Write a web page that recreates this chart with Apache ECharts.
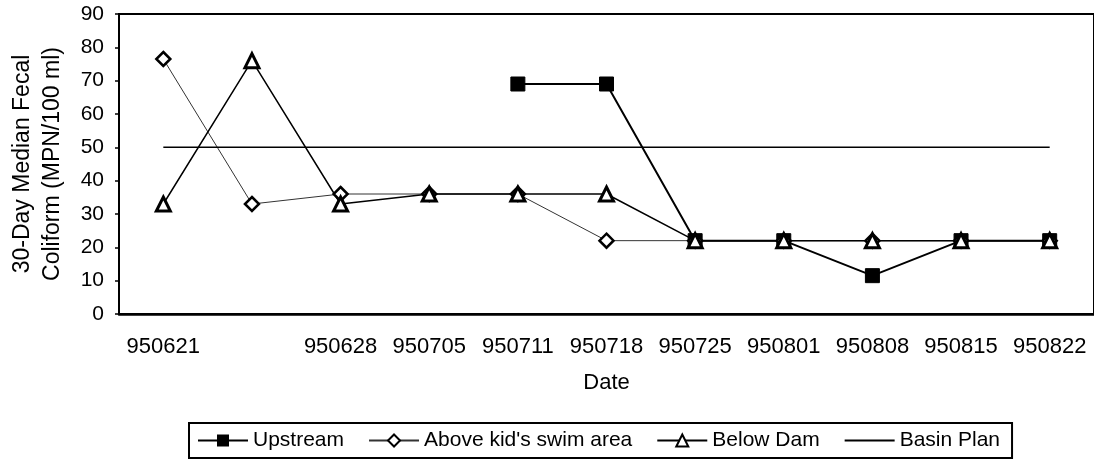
<!DOCTYPE html>
<html>
<head>
<meta charset="utf-8">
<script src="https://cdn.jsdelivr.net/npm/echarts@6/dist/echarts.min.js"></script>
<style>
  html, body { margin: 0; padding: 0; background: #fff; }
  #chart { width: 1094px; height: 464px; }
</style>
</head>
<body>
<div id="chart"></div>
<script>
// sampling dates (yymmdd); the second sample has no label on the axis
var dates = ['950621', '950624', '950628', '950705', '950711', '950718', '950725', '950801', '950808', '950815', '950822']
var dateLabels = ['950621', '', '950628', '950705', '950711', '950718', '950725', '950801', '950808', '950815', '950822']

var upstream = [null, null, null, null, 69, 69, 22, 22, 11.5, 22, 22]
var aboveSwim = [76.5, 33, 36, 36, 36, 22, 22, 22, 22, 22, 22]
var belowDam = [33, 76, 33, 36, 36, 36, 22, 22, 22, 22, 22]
var basinPlan = [50, 50, 50, 50, 50, 50, 50, 50, 50, 50, 50]

var yTicks = [0, 90, 10] // min, max, step

var font = 'Liberation Sans, Arial, sans-serif'

var chart = echarts.init(document.getElementById('chart'))
chart.setOption({
  animation: false,
  textStyle: { fontFamily: font, color: '#000' },
  grid: {
    left: 117,
    right: 0,
    top: 14,
    bottom: 150,
    show: true,
    borderColor: '#000',
    borderWidth: 2
  },
  legend: {
    left: 189,
    top: 423,
    itemWidth: 50,
    itemHeight: 15,
    itemGap: 24,
    padding: [7, 12, 7, 8],
    borderColor: '#000',
    borderWidth: 2,
    textStyle: { fontSize: 21, color: '#000', fontFamily: font },
    data: [
      'Upstream',
      "Above kid's swim area",
      'Below Dam',
      // plain line in the key, no marker
      { name: 'Basin Plan', itemStyle: { color: 'rgba(0,0,0,0)', borderWidth: 0 } }
    ]
  },
  xAxis: [{
    type: 'category',
    data: dates,
    boundaryGap: true,
    name: 'Date',
    nameLocation: 'middle',
    nameGap: 58,
    nameTextStyle: { fontSize: 22, color: '#000' },
    axisLine: { lineStyle: { color: '#000', width: 2.5 } },
    axisTick: { inside: true, length: 5, lineStyle: { color: '#000', width: 1.5 } },
    axisLabel: {
      fontSize: 22,
      color: '#000',
      margin: 22,
      interval: 0,
      formatter: function (v, i) { return dateLabels[i] }
    }
  }, {
    // second axis only adds the ticks at each date
    type: 'category',
    data: dates,
    position: 'bottom',
    boundaryGap: true,
    axisLine: { show: false },
    axisTick: { inside: true, alignWithLabel: true, length: 5, lineStyle: { color: '#000', width: 1.5 } },
    axisLabel: { show: false }
  }],
  yAxis: {
    type: 'value',
    min: yTicks[0],
    max: yTicks[1],
    interval: yTicks[2],
    name: '30-Day Median Fecal\nColiform (MPN/100 ml)',
    nameLocation: 'middle',
    nameGap: 51,
    nameTextStyle: { fontSize: 23, color: '#000', lineHeight: 30 },
    splitLine: { show: false },
    axisLine: { show: true, lineStyle: { color: '#000', width: 2 } },
    axisTick: { show: true, length: 4, lineStyle: { color: '#000', width: 1.5 } },
    axisLabel: { fontSize: 21, color: '#000', margin: 15 }
  },
  series: [{
    name: 'Upstream',
    type: 'line',
    data: upstream,
    symbol: 'rect',
    symbolSize: 14,
    lineStyle: { color: '#000', width: 2 },
    itemStyle: { color: '#000', borderColor: '#000' }
  }, {
    name: "Above kid's swim area",
    type: 'line',
    data: aboveSwim,
    symbol: 'diamond',
    symbolSize: 14,
    lineStyle: { color: '#333', width: 1 },
    itemStyle: { color: '#fff', borderColor: '#000', borderWidth: 2.5 }
  }, {
    name: 'Below Dam',
    type: 'line',
    data: belowDam,
    symbol: 'triangle',
    symbolSize: 14,
    lineStyle: { color: '#000', width: 1.5 },
    itemStyle: { color: '#fff', borderColor: '#000', borderWidth: 3 }
  }, {
    name: 'Basin Plan',
    type: 'line',
    data: basinPlan,
    symbol: 'none',
    lineStyle: { color: '#000', width: 1.5 },
    itemStyle: { color: '#000' }
  }]
})
</script>
</body>
</html>
